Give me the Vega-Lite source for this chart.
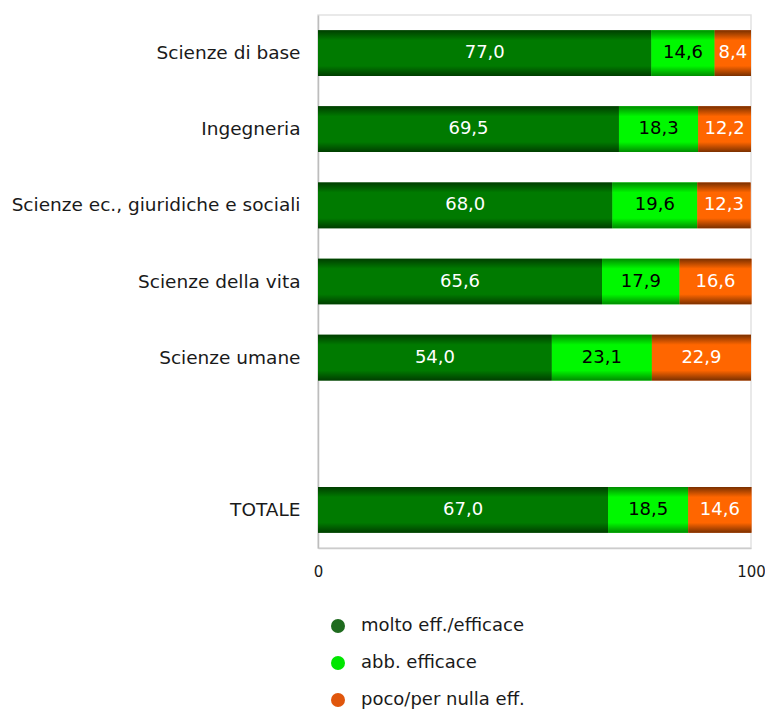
{
  "$schema": "https://vega.github.io/schema/vega-lite/v6.json",
  "width": 433,
  "height": 533,
  "autosize": "none",
  "padding": {"left": 318, "top": 15, "right": 14, "bottom": 163},
  "background": "white",
  "config": {
    "view": {"stroke": "#e2e2e2", "strokeWidth": 1.5},
    "font": "DejaVu Sans",
    "locale": {"number": {"decimal": ",", "thousands": ".", "grouping": [3], "currency": ["€", ""]}}
  },
  "data": {
    "values": [
      {"cat": "Scienze di base", "series": "molto eff./efficace", "ord": 1, "v": 77.0},
      {"cat": "Scienze di base", "series": "abb. efficace", "ord": 2, "v": 14.6},
      {"cat": "Scienze di base", "series": "poco/per nulla eff.", "ord": 3, "v": 8.4},
      {"cat": "Ingegneria", "series": "molto eff./efficace", "ord": 1, "v": 69.5},
      {"cat": "Ingegneria", "series": "abb. efficace", "ord": 2, "v": 18.3},
      {"cat": "Ingegneria", "series": "poco/per nulla eff.", "ord": 3, "v": 12.2},
      {"cat": "Scienze ec., giuridiche e sociali", "series": "molto eff./efficace", "ord": 1, "v": 68.0},
      {"cat": "Scienze ec., giuridiche e sociali", "series": "abb. efficace", "ord": 2, "v": 19.6},
      {"cat": "Scienze ec., giuridiche e sociali", "series": "poco/per nulla eff.", "ord": 3, "v": 12.3},
      {"cat": "Scienze della vita", "series": "molto eff./efficace", "ord": 1, "v": 65.6},
      {"cat": "Scienze della vita", "series": "abb. efficace", "ord": 2, "v": 17.9},
      {"cat": "Scienze della vita", "series": "poco/per nulla eff.", "ord": 3, "v": 16.6},
      {"cat": "Scienze umane", "series": "molto eff./efficace", "ord": 1, "v": 54.0},
      {"cat": "Scienze umane", "series": "abb. efficace", "ord": 2, "v": 23.1},
      {"cat": "Scienze umane", "series": "poco/per nulla eff.", "ord": 3, "v": 22.9},
      {"cat": "TOTALE", "series": "molto eff./efficace", "ord": 1, "v": 67.0},
      {"cat": "TOTALE", "series": "abb. efficace", "ord": 2, "v": 18.5},
      {"cat": "TOTALE", "series": "poco/per nulla eff.", "ord": 3, "v": 14.6}
    ]
  },
  "encoding": {
    "y": {
      "field": "cat",
      "type": "nominal",
      "scale": {
        "domain": ["Scienze di base", "Ingegneria", "Scienze ec., giuridiche e sociali", "Scienze della vita", "Scienze umane", " ", "TOTALE"],
        "paddingInner": 0.4,
        "paddingOuter": 0.2
      },
      "axis": {
        "title": null,
        "ticks": false,
        "labelFontSize": 18.5,
        "labelColor": "#1a1a1a",
        "labelPadding": 18,
        "labelLimit": 400,
        "domainColor": "#bdbdbd",
        "domainWidth": 1.5
      }
    },
    "order": {"field": "ord", "type": "quantitative"}
  },
  "layer": [
    {
      "mark": {"type": "bar"},
      "encoding": {
        "x": {
          "field": "v",
          "type": "quantitative",
          "stack": "zero",
          "scale": {"domain": [0, 100], "nice": false},
          "axis": {
            "title": null,
            "values": [0, 100],
            "ticks": false,
            "grid": false,
            "labelFontSize": 15,
            "labelColor": "#1a1a1a",
            "labelPadding": 16,
            "labelFlush": false,
            "format": "d",
            "domainColor": "#cccccc",
            "domainWidth": 1.5
          }
        },
        "color": {
          "field": "series",
          "type": "nominal",
          "scale": {
            "domain": ["molto eff./efficace", "abb. efficace", "poco/per nulla eff."],
            "range": ["#1f6b1f", "#00e600", "#e0560c"]
          },
          "legend": {
            "orient": "none",
            "legendX": 11,
            "legendY": 602,
            "title": null,
            "direction": "vertical",
            "symbolType": "circle",
            "symbolSize": 196,
            "symbolStrokeWidth": 0,
            "labelFontSize": 18,
            "labelLimit": 400,
            "labelColor": "#1a1a1a",
            "labelOffset": 14,
            "rowPadding": 19,
            "padding": 0
          }
        }
      }
    },
    {
      "mark": {"type": "bar"},
      "encoding": {
        "x": {"field": "v", "type": "quantitative", "stack": "zero"},
        "detail": {"field": "series"},
        "fill": {
          "condition": [
            {
              "test": "datum.series === 'molto eff./efficace'",
              "value": {"gradient": "linear", "x1": 0, "y1": 0, "x2": 0, "y2": 1, "stops": [
                {"offset": 0, "color": "#003e00"},
                {"offset": 0.22, "color": "#007a00"},
                {"offset": 0.78, "color": "#007a00"},
                {"offset": 1, "color": "#003e00"}
              ]}
            },
            {
              "test": "datum.series === 'abb. efficace'",
              "value": {"gradient": "linear", "x1": 0, "y1": 0, "x2": 0, "y2": 1, "stops": [
                {"offset": 0, "color": "#008c00"},
                {"offset": 0.22, "color": "#00f800"},
                {"offset": 0.78, "color": "#00f800"},
                {"offset": 1, "color": "#008c00"}
              ]}
            }
          ],
          "value": {"gradient": "linear", "x1": 0, "y1": 0, "x2": 0, "y2": 1, "stops": [
            {"offset": 0, "color": "#7a3000"},
            {"offset": 0.22, "color": "#ff6600"},
            {"offset": 0.78, "color": "#ff6600"},
            {"offset": 1, "color": "#7a3000"}
          ]}
        }
      }
    },
    {
      "mark": {"type": "text", "fontSize": 18, "baseline": "middle", "align": "center"},
      "encoding": {
        "x": {"field": "v", "type": "quantitative", "stack": "zero", "bandPosition": 0.5},
        "detail": {"field": "series"},
        "text": {"field": "v", "type": "quantitative", "format": ".1f"},
        "color": {
          "condition": {"test": "datum.series === 'abb. efficace'", "value": "#000000"},
          "value": "#ffffff"
        }
      }
    }
  ]
}
